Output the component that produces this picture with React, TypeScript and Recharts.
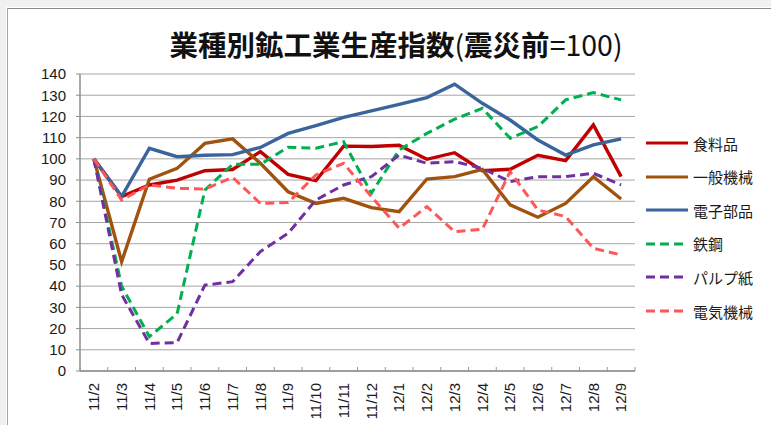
import React from 'react';
import { LineChart, Line, XAxis, YAxis, CartesianGrid } from 'recharts';

const months = ['11/2', '11/3', '11/4', '11/5', '11/6', '11/7', '11/8', '11/9', '11/10', '11/11', '11/12', '12/1', '12/2', '12/3', '12/4', '12/5', '12/6', '12/7', '12/8', '12/9'];

const food = [100, 82.2, 87.7, 90, 94.4, 95, 103.4, 92.7, 89.7, 106, 105.8, 106.4, 99.8, 102.9, 94.4, 95.1, 101.7, 99.2, 116, 91.6];
const machinery = [100, 51.5, 90.4, 95.5, 107.3, 109.4, 97.9, 84.5, 79, 81.4, 77, 75.1, 90.5, 91.6, 95, 78.3, 72.5, 79, 91.6, 81.1];
const electronics = [100, 82.2, 105, 101, 101.7, 102, 105.4, 112, 115.7, 119.6, 122.6, 125.7, 128.9, 135.2, 126.2, 118.3, 108.9, 101.8, 106.6, 109.4];
const steel = [100, 40, 16.2, 27, 85.3, 97.4, 97.4, 105.5, 105, 108.1, 83.8, 104.2, 112, 118.7, 123.8, 109.7, 115.2, 127.8, 131.2, 127.8];
const pulp = [100, 36, 13, 13.4, 40.5, 42.1, 56.3, 64.9, 80.6, 87.7, 91.6, 101.8, 97.9, 98.7, 95.5, 89.3, 91.6, 91.6, 93.2, 87.7];
const electrical = [100, 80.6, 87.7, 86.1, 85.8, 91.3, 79, 79.4, 92.4, 97.9, 82.2, 67.3, 77.5, 65.7, 66.8, 94, 75.9, 72.8, 57.8, 54.7];

const yTicks = [0, 10, 20, 30, 40, 50, 60, 70, 80, 90, 100, 110, 120, 130, 140];

const series = [
  { key: 'food', name: '食料品', color: '#c00000', dash: undefined as string | undefined },
  { key: 'machinery', name: '一般機械', color: '#a0520f', dash: undefined },
  { key: 'electronics', name: '電子部品', color: '#3a659c', dash: undefined },
  { key: 'steel', name: '鉄鋼', color: '#00b050', dash: '9 5' },
  { key: 'pulp', name: 'パルプ紙', color: '#7030a0', dash: '9 5' },
  { key: 'electrical', name: '電気機械', color: '#ff5757', dash: '9 5' },
];

const data = months.map((m, i) => ({
  i,
  month: m,
  food: food[i],
  machinery: machinery[i],
  electronics: electronics[i],
  steel: steel[i],
  pulp: pulp[i],
  electrical: electrical[i],
}));

// label ticks on the categories, short tick marks on the boundaries between them
const xTicks: number[] = [];
for (let k = -0.5; k <= months.length - 0.5; k += 0.5) xTicks.push(k);

const jp = '"Noto Sans CJK JP", "Liberation Sans", sans-serif';
const num = '"Liberation Sans", Arial, sans-serif';

const XTick = (props: any) => {
  const { x, y, payload } = props;
  const v = payload.value;
  if (Number.isInteger(v)) {
    const ty = y + 12;
    return (
      <text x={x} y={ty} transform={`rotate(-90 ${x} ${ty})`} textAnchor="end" dy="0.35em"
        fontSize={15} fontFamily={num} fill="#1a1a1a">
        {months[v]}
      </text>
    );
  }
  return <line x1={x} x2={x} y1={y} y2={y - 4} stroke="#999" />;
};

const LegendBox = () => (
  <div style={{ position: 'absolute', left: 646, top: 127 }}>
    {series.map((s, idx) => (
      <div key={s.key} style={{ position: 'absolute', top: idx * 33.6, left: 0, height: 32, width: 120, display: 'flex', alignItems: 'center' }}>
        <svg width={44} height={8} style={{ display: 'block' }}>
          <line x1={0} x2={42} y1={4} y2={4} stroke={s.color} strokeWidth={3.2} strokeDasharray={s.dash} />
        </svg>
        <span style={{ fontFamily: jp, fontSize: 15, color: '#1a1a1a', marginLeft: 3 }}>{s.name}</span>
      </div>
    ))}
  </div>
);

export default function App() {
  return (
    <div style={{ position: 'absolute', left: 0, top: 0, width: 771, height: 425, background: '#fff', overflow: 'hidden' }}>
      <div style={{ position: 'absolute', left: 0, top: 0, width: 771, height: 7, background: '#f0f0f0' }} />
      <div style={{ position: 'absolute', left: 0, top: 0, width: 6, height: 425, background: '#f0f0f0' }} />
      <div style={{ position: 'absolute', left: 7, top: 8, width: 764, height: 417, borderTop: '1px solid #8c8c8c', borderLeft: '1px solid #a6a6a6' }} />
      <div style={{ position: 'absolute', left: 0, top: 26, width: 792, textAlign: 'center', fontFamily: jp, fontSize: 28.5, lineHeight: '36px', color: '#111', whiteSpace: 'nowrap' }}>
        <span style={{ fontWeight: 700 }}>業種別鉱工業生産指数</span>
        <span style={{ fontWeight: 400 }}>(</span>
        <span style={{ fontWeight: 700 }}>震災前</span>
        <span style={{ fontWeight: 400 }}>=100)</span>
      </div>
      <div style={{ position: 'absolute', left: 0, top: 0 }}>
        <LineChart width={771} height={425} data={data} margin={{ top: 74, right: 136, bottom: 0, left: 0 }}>
          <CartesianGrid vertical={false} stroke="#a6a6a6" />
          <XAxis dataKey="i" type="number" domain={[-0.5, months.length - 0.5]} ticks={xTicks} interval={0}
            height={54} tickSize={0} tickMargin={0} tickLine={false} tick={<XTick />}
            axisLine={{ stroke: '#8c8c8c', strokeWidth: 1.5 }} allowDecimals />
          <YAxis domain={[0, 140]} ticks={yTicks} width={80} tickSize={4} tickMargin={10} interval={0}
            tick={{ fontSize: 15, fontFamily: num, fill: '#1a1a1a' }}
            tickLine={{ stroke: '#8c8c8c' }} axisLine={{ stroke: '#8c8c8c', strokeWidth: 1.5 }} />
          {series.map((s) => (
            <Line key={s.key} dataKey={s.key} name={s.name} type="linear" stroke={s.color}
              strokeWidth={s.dash ? 3 : 3.4} strokeDasharray={s.dash} dot={false} activeDot={false}
              isAnimationActive={false} />
          ))}
        </LineChart>
      </div>
      <LegendBox />
    </div>
  );
}
